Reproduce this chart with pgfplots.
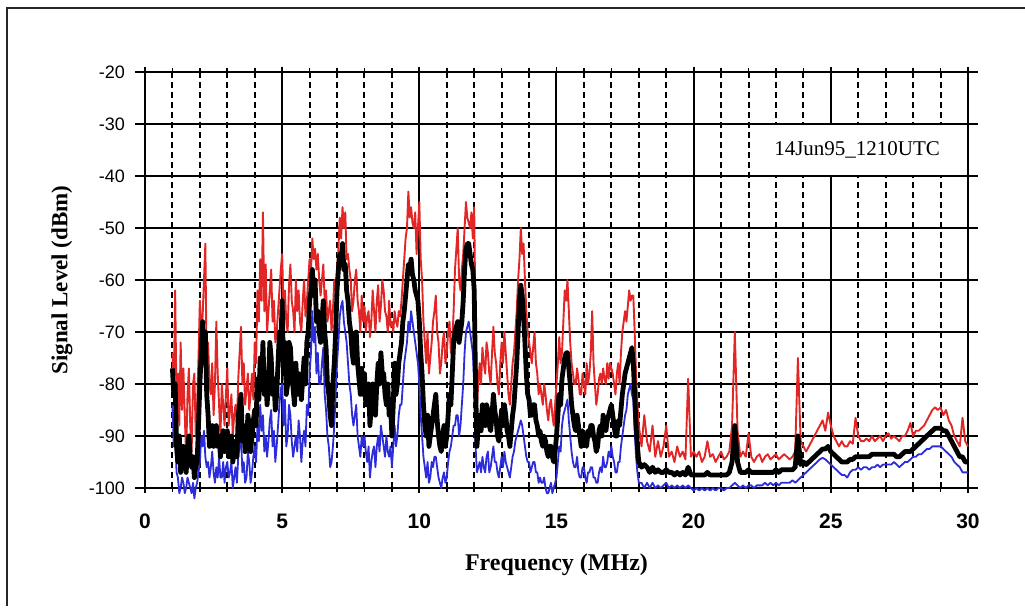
\documentclass[border=0pt]{standalone}
\usepackage{fontspec}
\setmainfont{Liberation Serif}
\newfontfamily\arial{Liberation Sans}
\usepackage{pgfplots}
\usepackage{pgfplotstable}
\pgfplotsset{compat=1.18}
\definecolor{sred}{RGB}{226,38,38}
\definecolor{sblue}{RGB}{44,44,218}

\pgfplotstableread{
f r k b
1.0 -74 -77 -84
1.05 -80 -82 -92
1.1 -62 -80 -90
1.15 -84 -92 -97
1.2 -78 -95 -98
1.25 -88 -90 -101
1.3 -72 -97 -100
1.35 -85 -94 -98
1.4 -77 -92 -99
1.45 -86 -95 -101
1.5 -94 -97 -100
1.55 -82 -93 -98
1.6 -77 -90 -99
1.65 -88 -94 -100
1.7 -93 -96 -101
1.75 -80 -94 -99
1.8 -78 -98 -102
1.85 -90 -96 -100
1.9 -84 -95 -99
1.95 -75 -88 -97
2.0 -64 -80 -95
2.05 -70 -74 -90
2.1 -67 -68 -92
2.15 -60 -76 -89
2.2 -53 -70 -94
2.25 -78 -82 -96
2.3 -72 -86 -95
2.35 -80 -92 -98
2.4 -82 -90 -96
2.45 -76 -88 -93
2.5 -86 -92 -97
2.55 -80 -89 -99
2.6 -68 -88 -96
2.65 -78 -92 -98
2.7 -84 -90 -94
2.75 -90 -94 -98
2.8 -80 -91 -98
2.85 -84 -89 -95
2.9 -88 -93 -99
2.95 -82 -90 -96
3.0 -77 -89 -95
3.05 -88 -94 -98
3.1 -85 -92 -97
3.15 -82 -90 -95
3.2 -90 -95 -100
3.25 -86 -93 -98
3.3 -84 -91 -96
3.35 -88 -94 -99
3.4 -79 -86 -94
3.45 -74 -84 -92
3.5 -69 -82 -90
3.55 -80 -91 -97
3.6 -76 -88 -95
3.65 -84 -93 -99
3.7 -81 -92 -98
3.75 -78 -86 -93
3.8 -85 -88 -95
3.85 -82 -93 -99
3.9 -78 -90 -97
3.95 -83 -87 -94
4.0 -72 -85 -92
4.05 -76 -88 -95
4.1 -62 -79 -88
4.15 -68 -83 -91
4.2 -56 -75 -84
4.25 -64 -80 -89
4.3 -47 -72 -86
4.35 -66 -82 -93
4.4 -57 -78 -90
4.45 -70 -84 -94
4.5 -66 -80 -91
4.55 -62 -72 -87
4.6 -58 -75 -85
4.65 -68 -82 -92
4.7 -64 -79 -89
4.75 -72 -85 -95
4.8 -70 -82 -92
4.85 -66 -76 -88
4.9 -62 -70 -84
4.95 -58 -73 -81
5.0 -55 -64 -80
5.05 -66 -78 -88
5.1 -62 -72 -83
5.15 -68 -82 -92
5.2 -70 -80 -90
5.25 -61 -72 -84
5.3 -57 -73 -86
5.35 -64 -78 -91
5.4 -66 -81 -94
5.45 -70 -84 -92
5.5 -60 -76 -90
5.55 -66 -82 -93
5.6 -62 -78 -87
5.65 -68 -80 -90
5.7 -70 -83 -95
5.75 -64 -79 -91
5.8 -60 -75 -89
5.85 -67 -80 -92
5.9 -64 -72 -84
5.95 -60 -70 -86
6.0 -56 -64 -78
6.05 -58 -62 -74
6.1 -52 -58 -66
6.15 -56 -63 -72
6.2 -54 -60 -69
6.25 -58 -68 -78
6.3 -55 -66 -74
6.35 -60 -70 -80
6.4 -63 -72 -80
6.45 -60 -68 -76
6.5 -57 -64 -73
6.55 -64 -70 -82
6.6 -62 -73 -85
6.65 -68 -80 -90
6.7 -66 -82 -92
6.75 -64 -86 -96
6.8 -70 -88 -95
6.85 -66 -80 -92
6.9 -60 -76 -88
6.95 -62 -70 -82
7.0 -58 -62 -76
7.05 -54 -58 -72
7.1 -48 -55 -67
7.15 -52 -56 -65
7.2 -46 -53 -64
7.25 -50 -58 -68
7.3 -47 -57 -70
7.35 -56 -62 -72
7.4 -55 -64 -76
7.45 -58 -68 -80
7.5 -60 -70 -82
7.55 -66 -74 -86
7.6 -64 -76 -88
7.65 -60 -74 -86
7.7 -58 -70 -84
7.75 -64 -76 -90
7.8 -66 -79 -92
7.85 -70 -82 -94
7.9 -63 -77 -90
7.95 -68 -82 -92
8.0 -65 -78 -90
8.05 -70 -84 -93
8.1 -67 -82 -95
8.15 -66 -80 -92
8.2 -71 -88 -98
8.25 -68 -84 -95
8.3 -62 -80 -93
8.35 -66 -82 -92
8.4 -70 -86 -96
8.45 -64 -80 -92
8.5 -61 -76 -90
8.55 -68 -80 -93
8.6 -65 -74 -88
8.65 -60 -78 -90
8.7 -62 -78 -92
8.75 -66 -82 -94
8.8 -67 -84 -90
8.85 -70 -80 -93
8.9 -64 -86 -94
8.95 -69 -84 -92
9.0 -68 -90 -96
9.05 -70 -84 -92
9.1 -66 -76 -88
9.15 -68 -82 -92
9.2 -69 -80 -90
9.25 -66 -76 -86
9.3 -67 -74 -84
9.35 -64 -72 -84
9.4 -60 -68 -80
9.45 -56 -66 -76
9.5 -52 -63 -74
9.55 -50 -60 -72
9.6 -43 -57 -68
9.65 -48 -58 -70
9.7 -46 -56 -66
9.75 -49 -59 -68
9.8 -50 -60 -70
9.85 -47 -62 -72
9.9 -55 -63 -74
9.95 -50 -64 -76
10.0 -45 -68 -80
10.05 -56 -74 -86
10.1 -60 -78 -90
10.15 -68 -84 -94
10.2 -72 -88 -96
10.25 -76 -90 -98
10.3 -70 -86 -95
10.35 -78 -92 -99
10.4 -75 -90 -98
10.45 -72 -88 -95
10.5 -68 -86 -96
10.55 -66 -84 -94
10.6 -63 -82 -94
10.65 -70 -87 -96
10.7 -72 -90 -98
10.75 -78 -92 -99
10.8 -76 -93 -100
10.85 -72 -90 -98
10.9 -70 -88 -97
10.95 -76 -92 -99
11.0 -74 -90 -98
11.05 -70 -86 -95
11.1 -68 -82 -93
11.15 -74 -84 -92
11.2 -72 -78 -90
11.25 -66 -72 -88
11.3 -58 -70 -88
11.35 -54 -69 -86
11.4 -50 -68 -86
11.45 -60 -72 -90
11.5 -62 -70 -88
11.55 -58 -68 -84
11.6 -55 -64 -80
11.65 -50 -58 -74
11.7 -45 -54 -70
11.75 -48 -53 -69
11.8 -49 -53 -68
11.85 -50 -55 -70
11.9 -47 -57 -72
11.95 -52 -58 -74
12.0 -46 -62 -80
12.05 -70 -80 -92
12.1 -84 -92 -97
12.15 -80 -88 -96
12.2 -76 -86 -95
12.25 -80 -89 -97
12.3 -73 -84 -94
12.35 -76 -87 -96
12.4 -78 -88 -97
12.45 -72 -84 -94
12.5 -74 -85 -93
12.55 -78 -88 -97
12.6 -80 -89 -96
12.65 -74 -86 -94
12.7 -69 -82 -92
12.75 -74 -85 -95
12.8 -76 -87 -95
12.85 -80 -90 -97
12.9 -82 -91 -98
12.95 -76 -88 -96
13.0 -72 -85 -94
13.05 -76 -88 -96
13.1 -70 -84 -93
13.15 -74 -86 -95
13.2 -78 -89 -96
13.25 -82 -90 -97
13.3 -84 -92 -98
13.35 -80 -89 -96
13.4 -76 -86 -94
13.45 -74 -84 -93
13.5 -70 -80 -91
13.55 -66 -76 -90
13.6 -60 -70 -89
13.65 -56 -64 -88
13.7 -50 -61 -87
13.75 -55 -63 -88
13.8 -53 -67 -90
13.85 -60 -72 -92
13.9 -66 -78 -94
13.95 -70 -82 -95
14.0 -72 -83 -95
14.05 -74 -86 -97
14.1 -76 -86 -96
14.15 -73 -84 -95
14.2 -70 -84 -95
14.25 -76 -87 -97
14.3 -78 -88 -97
14.35 -82 -90 -99
14.4 -80 -89 -98
14.45 -82 -91 -99
14.5 -84 -92 -99
14.55 -80 -90 -98
14.6 -82 -91 -100
14.65 -85 -93 -101
14.7 -87 -94 -101
14.75 -84 -92 -100
14.8 -83 -92 -99
14.85 -86 -94 -101
14.9 -88 -95 -100
14.95 -84 -93 -99
15.0 -80 -90 -98
15.05 -76 -86 -95
15.1 -71 -82 -92
15.15 -76 -84 -93
15.2 -74 -79 -88
15.25 -68 -77 -86
15.3 -62 -75 -85
15.35 -64 -74 -84
15.4 -60 -74 -83
15.45 -66 -77 -87
15.5 -72 -80 -90
15.55 -76 -84 -93
15.6 -78 -86 -95
15.65 -80 -88 -96
15.7 -80 -89 -96
15.75 -77 -86 -94
15.8 -79 -88 -97
15.85 -82 -90 -98
15.9 -82 -92 -98
15.95 -78 -89 -96
16.0 -80 -90 -96
16.05 -82 -91 -98
16.1 -76 -92 -99
16.15 -80 -89 -97
16.2 -78 -90 -97
16.25 -74 -88 -96
16.3 -66 -88 -96
16.35 -76 -90 -98
16.4 -80 -91 -98
16.45 -84 -93 -99
16.5 -82 -92 -99
16.55 -79 -89 -97
16.6 -78 -88 -96
16.65 -80 -90 -97
16.7 -77 -86 -94
16.75 -79 -88 -96
16.8 -80 -89 -96
16.85 -76 -87 -95
16.9 -79 -86 -93
16.95 -76 -85 -94
17.0 -77 -84 -92
17.05 -78 -86 -94
17.1 -80 -88 -95
17.15 -82 -90 -97
17.2 -78 -90 -97
17.25 -76 -87 -95
17.3 -80 -88 -95
17.35 -74 -85 -92
17.4 -70 -82 -90
17.45 -68 -80 -88
17.5 -66 -78 -86
17.55 -68 -77 -85
17.6 -65 -76 -82
17.65 -62 -75 -81
17.7 -64 -74 -80
17.75 -63 -73 -82
17.8 -63 -76 -83
17.85 -70 -82 -89
17.9 -78 -88 -94
17.95 -84 -92 -97
18.0 -88 -95 -99
18.1 -92 -96 -99
18.2 -86 -95.5 -100
18.3 -91 -96 -99
18.4 -93 -97 -100
18.5 -88 -96 -99
18.6 -94 -97 -100
18.7 -91 -96.5 -99.5
18.8 -94 -97 -100
18.9 -92 -97 -99.5
19.0 -88 -96.5 -99
19.1 -94 -97 -100
19.2 -93 -97 -99.5
19.3 -95 -97.5 -100
19.4 -92 -97 -99.5
19.5 -94 -97.5 -100
19.6 -93 -97 -99.5
19.7 -94.5 -97.5 -100
19.8 -79 -96 -99.5
19.9 -94 -97.5 -100
20.0 -93 -97.5 -100.5
20.1 -94 -97.5 -100
20.2 -93 -97.5 -100.5
20.3 -95 -97.5 -100
20.4 -94 -97.5 -100.5
20.5 -91 -97 -100
20.6 -94 -97.5 -100.5
20.7 -93.5 -97.5 -100
20.8 -95 -97.5 -100.5
20.9 -94 -97.5 -100
21.0 -93 -97.5 -100
21.1 -94.5 -97.5 -100.5
21.2 -94 -97.5 -100
21.3 -93 -97 -100
21.4 -88 -95 -99.5
21.5 -70 -88 -99
21.6 -89 -95 -99.5
21.7 -94 -97 -100
21.8 -93 -97 -99.5
21.9 -94 -97 -100
22.0 -89.5 -96.5 -99.5
22.1 -94 -97 -99.5
22.2 -95 -97 -100
22.3 -94 -97 -99.5
22.4 -93.5 -97 -99.5
22.5 -95 -97 -99.5
22.6 -94 -97 -99
22.7 -93.5 -97 -99.5
22.8 -94.5 -97 -99
22.9 -94 -97 -99.5
23.0 -93.5 -96.5 -99
23.1 -94.5 -97 -99.5
23.2 -94 -96.5 -99
23.3 -93.5 -96.5 -99
23.4 -94 -96.5 -99
23.5 -94.5 -96.5 -99
23.6 -94 -96.5 -98.5
23.7 -93 -96 -99
23.8 -75 -90 -98.5
23.9 -91 -95.5 -98
24.0 -92 -95 -97.5
24.1 -93 -95.5 -97
24.2 -92 -95 -96.5
24.3 -91 -94.5 -96
24.4 -90 -94 -95.5
24.5 -89 -93.5 -95
24.6 -88 -93 -94.5
24.7 -87 -92.5 -94.2
24.8 -89 -92.5 -94.5
24.9 -85.5 -92 -95
25.0 -88 -93 -95.5
25.1 -90 -93.5 -96
25.2 -91 -94 -96.5
25.3 -92 -94.5 -97
25.4 -91 -95 -97.5
25.5 -92 -95 -97.5
25.6 -92 -95 -98
25.7 -91 -94.5 -97
25.8 -91.5 -94.5 -96.5
25.9 -86.5 -94 -96.5
26.0 -90 -94 -96
26.1 -91 -94 -96.5
26.2 -91 -94 -96
26.3 -90.5 -94 -96
26.4 -91 -94 -96.5
26.5 -90 -93.5 -96
26.6 -91 -93.5 -96
26.7 -90.5 -93.5 -95.5
26.8 -90 -93.5 -96
26.9 -91 -93.5 -95.5
27.0 -90 -93.5 -95.5
27.1 -89.5 -93.5 -95.5
27.2 -90.5 -93.5 -95.5
27.3 -90 -93.5 -95
27.4 -90.5 -94 -95.5
27.5 -91 -94 -96
27.6 -90 -93.5 -95.5
27.7 -90 -93 -95
27.8 -89 -93 -95
27.9 -87.5 -93 -94.5
28.0 -90 -92.5 -94
28.1 -89 -92 -94
28.2 -89 -91.5 -93.5
28.3 -88.5 -91 -93.5
28.4 -88 -90.5 -93
28.5 -87 -90 -92.5
28.6 -86 -89.5 -92.5
28.7 -85 -89 -92
28.8 -84.5 -88.5 -92
28.9 -85 -88.5 -92
29.0 -84.5 -88.5 -92
29.1 -86 -89 -92.5
29.2 -85 -89 -93
29.3 -87 -90 -93.5
29.4 -88 -91 -94
29.5 -90 -92 -95
29.6 -91 -93 -95.5
29.7 -92 -94 -96
29.8 -86.5 -94 -97
29.9 -91 -95 -97
30.0 -92 -95 -97
}\spec

\begin{document}
\begin{tikzpicture}
\begin{axis}[
  at={(72.5pt,60pt)}, anchor=south west,
  scale only axis, width=411.5pt, height=208pt,
  xmin=0, xmax=30, ymin=-100, ymax=-20,
  xtick={0,5,...,30},
  minor xtick={1,2,3,4,6,7,8,9,11,12,13,14,16,17,18,19,21,22,23,24,26,27,28,29},
  ytick={-100,-90,...,-20},
  xmajorgrids, xminorgrids, ymajorgrids,
  major grid style={black, line width=1pt},
  minor grid style={black, line width=1pt, dash pattern=on 3pt off 2pt},
  axis line style={black, line width=1pt},
  xtick align=center, ytick align=outside,
  major tick length=5pt, minor tick length=4pt,
  tick style={black, line width=0.85pt},
  clip=false,
  /pgf/number format/assume math mode=true,
  yticklabel style={font=\arial\fontsize{9}{10}\selectfont, xshift=-1.5pt},
  xticklabel style={font=\arial\bfseries\fontsize{10.5}{12}\selectfont, yshift=-7pt},
  xlabel={Frequency (MHz)},
  ylabel={Signal Level (dBm)},
  xlabel style={font=\bfseries\fontsize{12}{14}\selectfont, at={(axis description cs:0.5,-0.1851)}, anchor=center},
  ylabel style={font=\bfseries\fontsize{11.5}{13}\selectfont, at={(axis description cs:-0.1009,0.5)}, anchor=center},
]
\addplot[sred, line width=0.95pt, line join=round] table[x=f,y=r] {\spec};
\addplot[sblue, line width=0.9pt, line join=round] table[x=f,y=b] {\spec};
\addplot[black, line width=2.4pt, line join=round] table[x=f,y=k] {\spec};
\fill[white] (axis cs:22.4,-40) rectangle (axis cs:30,-30);
\draw[black, line width=1pt] (axis cs:22.4,-30) -- (axis cs:30,-30);
\draw[black, line width=1pt] (axis cs:22.4,-40) -- (axis cs:30,-40);
\draw[black, line width=1pt] (axis cs:30,-41) -- (axis cs:30,-29);
\node[font=\fontsize{10.5}{12}\selectfont] at (axis cs:25.96,-35) {14Jun95\_1210UTC};
\end{axis}
\draw[black!85, line width=1.3pt] (3.5pt,1pt) -- (3.5pt,300pt) -- (514pt,300pt);
\pgfresetboundingbox
\useasboundingbox (0,0) rectangle (512.5pt,304pt);
\end{tikzpicture}
\end{document}
